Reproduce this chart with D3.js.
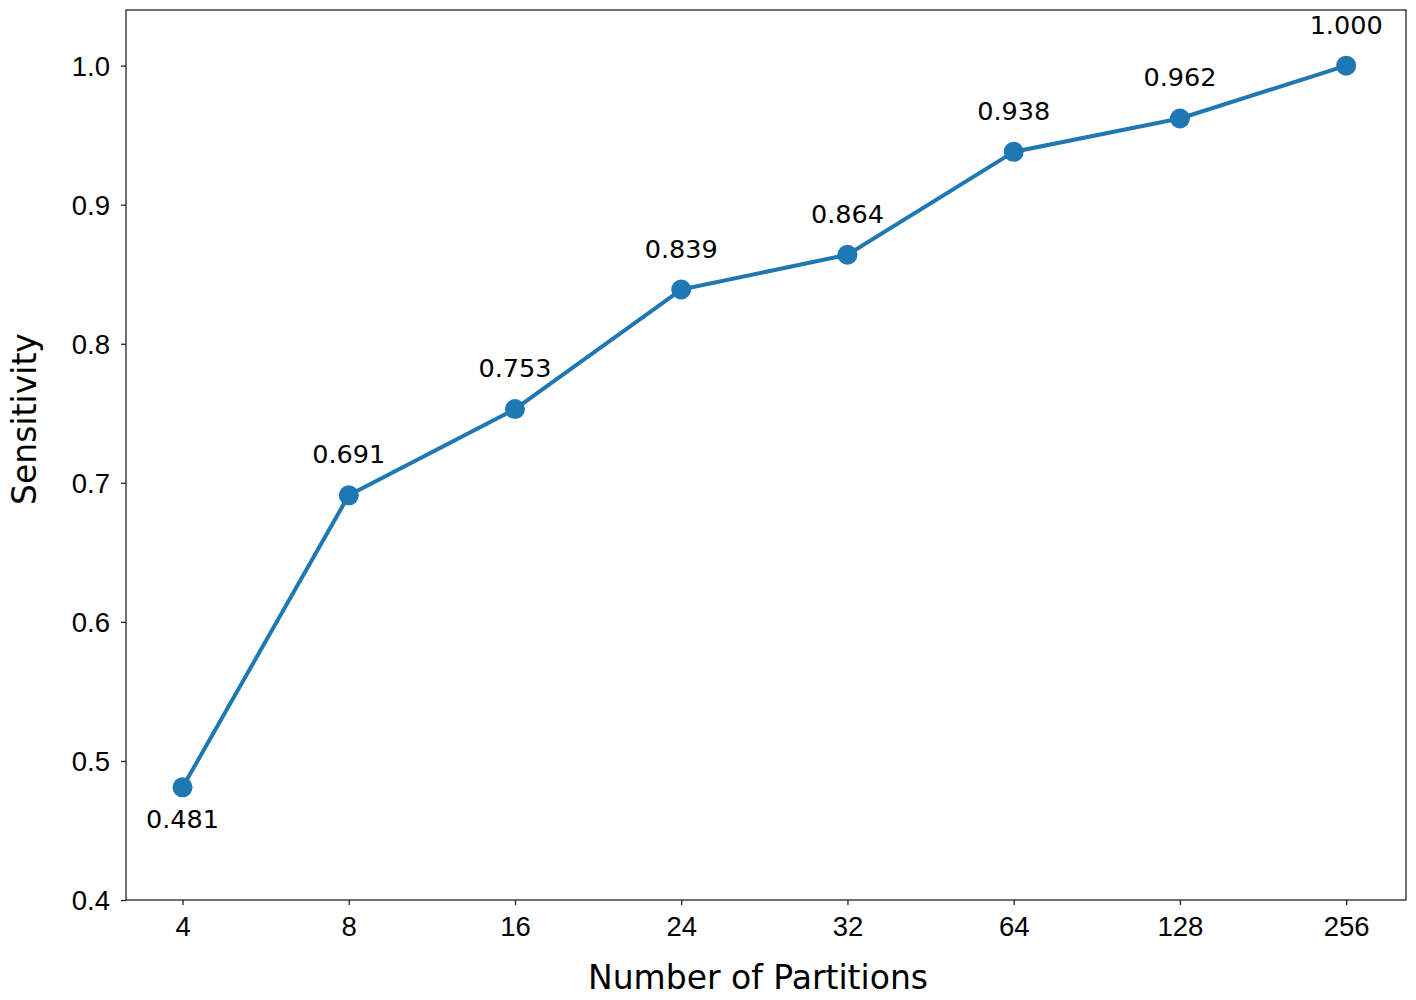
<!DOCTYPE html>
<html>
<head>
<meta charset="utf-8">
<script src="https://cdn.jsdelivr.net/npm/d3@7"></script>
<style>
  html, body { margin: 0; padding: 0; background: #fff; }
  svg { display: block; font-family: "DejaVu Sans", sans-serif; }
</style>
</head>
<body>
<svg id="chart" width="1416" height="1000"></svg>
<script>
const categories = ["4", "8", "16", "24", "32", "64", "128", "256"];
const sensitivity = [0.481, 0.691, 0.753, 0.839, 0.864, 0.938, 0.962, 1.000];
const yTicks = [0.4, 0.5, 0.6, 0.7, 0.8, 0.9, 1.0];
const xLabel = "Number of Partitions";
const yLabel = "Sensitivity";

(function () {
const svg = d3.select("#chart");
const mLeft = 126, mRight = 1406, mTop = 10, mBottom = 900;
const color = "#1f77b4";

const x = d3.scaleLinear().domain([-0.34, categories.length - 1 + 0.36]).range([mLeft, mRight]);
const y = d3.scaleLinear().domain([0.4, 1.04]).range([mBottom, mTop]);

// axes
const xAxis = d3.axisBottom(x)
  .tickValues(d3.range(categories.length))
  .tickFormat(i => categories[i])
  .tickSizeInner(5).tickSizeOuter(0).tickPadding(10);
const gx = svg.append("g").attr("transform", `translate(0,${mBottom})`).call(xAxis);
gx.select(".domain").remove();
gx.selectAll("line").attr("stroke", "#222").attr("stroke-width", 1.3);
gx.selectAll("text").attr("font-size", 27.5).attr("fill", "#000").attr("dy", "0.75em");

const yAxis = d3.axisLeft(y)
  .tickValues(yTicks)
  .tickFormat(d3.format(".1f"))
  .tickSizeInner(5).tickSizeOuter(0).tickPadding(11);
const gy = svg.append("g").attr("transform", `translate(${mLeft},0)`).call(yAxis);
gy.select(".domain").remove();
gy.selectAll("line").attr("stroke", "#222").attr("stroke-width", 1.3);
gy.selectAll("text").attr("font-size", 27.5).attr("fill", "#000").attr("dy", "0.36em");

// frame
svg.append("rect")
  .attr("x", mLeft).attr("y", mTop)
  .attr("width", mRight - mLeft).attr("height", mBottom - mTop)
  .attr("fill", "none").attr("stroke", "#222").attr("stroke-width", 1.3);

// line
const line = d3.line().x((d, i) => x(i)).y(d => y(d));
svg.append("path")
  .datum(sensitivity)
  .attr("d", line)
  .attr("fill", "none")
  .attr("stroke", color)
  .attr("stroke-width", 4)
  .attr("stroke-linejoin", "round");

svg.selectAll("circle.pt")
  .data(sensitivity)
  .join("circle")
  .attr("class", "pt")
  .attr("cx", (d, i) => x(i))
  .attr("cy", d => y(d))
  .attr("r", 10)
  .attr("fill", color);

// annotations
svg.selectAll("text.ann")
  .data(sensitivity)
  .join("text")
  .attr("class", "ann")
  .attr("x", (d, i) => x(i))
  .attr("y", (d, i) => i === 0 ? y(d) + 41 : y(d) - 32)
  .attr("text-anchor", "middle")
  .attr("font-size", 25.5)
  .attr("fill", "#000")
  .text(d => d3.format(".3f")(d));

// axis labels
svg.append("text")
  .attr("x", 758)
  .attr("y", 989)
  .attr("text-anchor", "middle")
  .attr("font-size", 33)
  .attr("fill", "#000")
  .text(xLabel);

svg.append("text")
  .attr("transform", `translate(36,419) rotate(-90)`)
  .attr("text-anchor", "middle")
  .attr("font-size", 33)
  .attr("fill", "#000")
  .text(yLabel);
})();
</script>
</body>
</html>
